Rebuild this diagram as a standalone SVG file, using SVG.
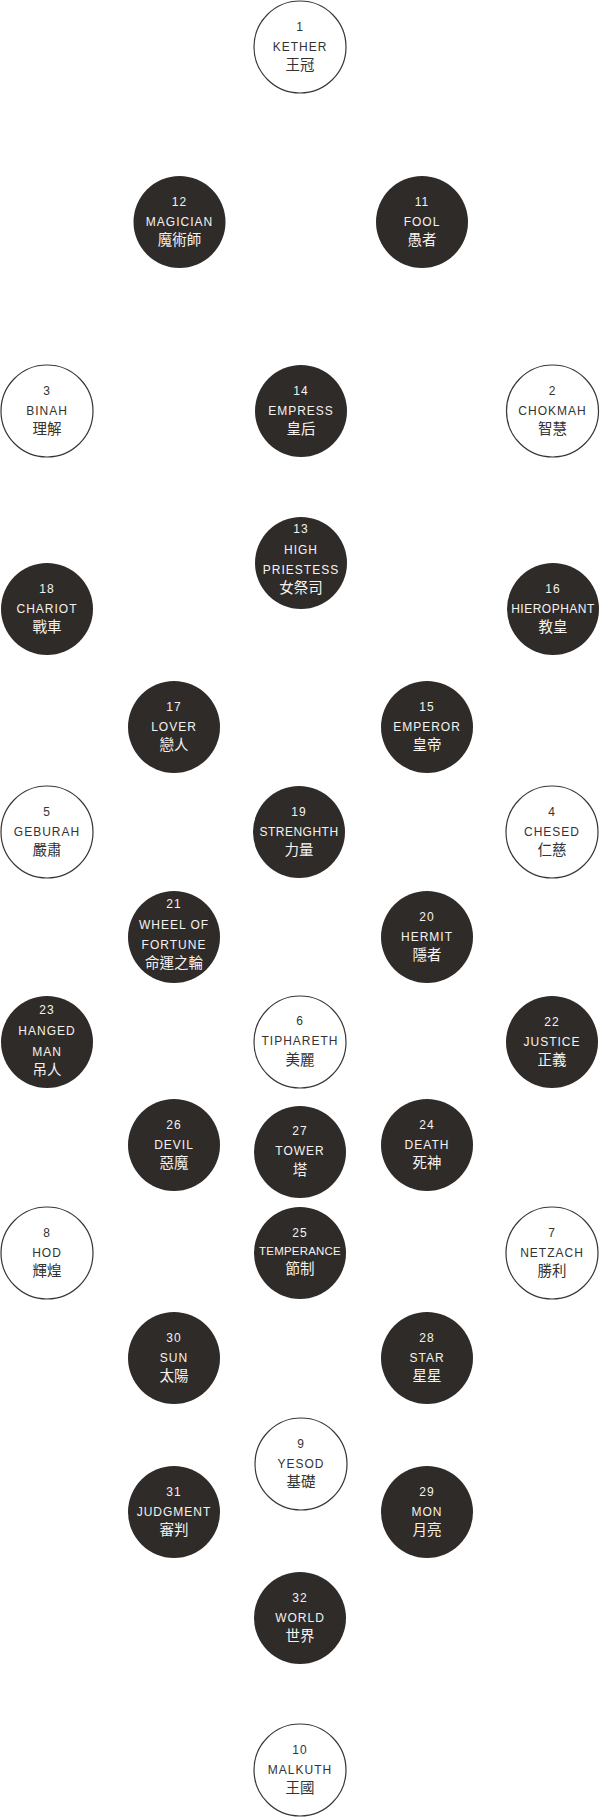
<svg xmlns="http://www.w3.org/2000/svg" width="600" height="1818" viewBox="0 0 600 1818">
<style>
.w circle{fill:#fff;stroke:#3a3636;stroke-width:1.2}
.d circle{fill:#2f2b29}
text{font-family:"Liberation Sans","Noto Sans CJK TC",sans-serif;text-anchor:middle;font-size:12px;letter-spacing:1px}
.w text{fill:#333}
.d text{fill:#f5f3f0}
text.c{font-family:"Noto Sans CJK TC",sans-serif;font-size:14.5px;letter-spacing:0}
</style>
<rect width="600" height="1818" fill="#fff"/>
<g id="connectors"></g>
<g id="nodes">
<g id="n1" class="w" transform="translate(300,47)"><circle r="46"/><text y="-16">1</text><text y="4">KETHER</text><text class="c" y="23">王冠</text></g>
<g id="n12" class="d" transform="translate(179.5,222)"><circle r="46"/><text y="-16">12</text><text y="4">MAGICIAN</text><text class="c" y="23">魔術師</text></g>
<g id="n11" class="d" transform="translate(422,222)"><circle r="46"/><text y="-16">11</text><text y="4">FOOL</text><text class="c" y="23">愚者</text></g>
<g id="n3" class="w" transform="translate(47,411)"><circle r="46"/><text y="-16">3</text><text y="4">BINAH</text><text class="c" y="23">理解</text></g>
<g id="n14" class="d" transform="translate(301,411)"><circle r="46"/><text y="-16">14</text><text y="4">EMPRESS</text><text class="c" y="23">皇后</text></g>
<g id="n2" class="w" transform="translate(552.5,411)"><circle r="46"/><text y="-16">2</text><text y="4">CHOKMAH</text><text class="c" y="23">智慧</text></g>
<g id="n13" class="d" transform="translate(301,563)"><circle r="46"/><text y="-30">13</text><text y="-9">HIGH</text><text y="11">PRIESTESS</text><text class="c" y="30">女祭司</text></g>
<g id="n18" class="d" transform="translate(47,609)"><circle r="46"/><text y="-16">18</text><text y="4">CHARIOT</text><text class="c" y="23">戰車</text></g>
<g id="n16" class="d" transform="translate(553,609)"><circle r="46"/><text y="-16">16</text><text y="4" style="letter-spacing:0.5px">HIEROPHANT</text><text class="c" y="23">教皇</text></g>
<g id="n17" class="d" transform="translate(174,727)"><circle r="46"/><text y="-16">17</text><text y="4">LOVER</text><text class="c" y="23">戀人</text></g>
<g id="n15" class="d" transform="translate(427,727)"><circle r="46"/><text y="-16">15</text><text y="4">EMPEROR</text><text class="c" y="23">皇帝</text></g>
<g id="n5" class="w" transform="translate(47,832)"><circle r="46"/><text y="-16">5</text><text y="4">GEBURAH</text><text class="c" y="23">嚴肅</text></g>
<g id="n19" class="d" transform="translate(299,832)"><circle r="46"/><text y="-16">19</text><text y="4" style="letter-spacing:0.5px">STRENGHTH</text><text class="c" y="23">力量</text></g>
<g id="n4" class="w" transform="translate(552,832)"><circle r="46"/><text y="-16">4</text><text y="4">CHESED</text><text class="c" y="23">仁慈</text></g>
<g id="n21" class="d" transform="translate(174,937)"><circle r="46"/><text y="-29">21</text><text y="-8">WHEEL OF</text><text y="12">FORTUNE</text><text class="c" y="31">命運之輪</text></g>
<g id="n20" class="d" transform="translate(427,937)"><circle r="46"/><text y="-16">20</text><text y="4">HERMIT</text><text class="c" y="23">隱者</text></g>
<g id="n23" class="d" transform="translate(47,1042)"><circle r="46"/><text y="-28">23</text><text y="-7">HANGED</text><text y="14">MAN</text><text class="c" y="33">吊人</text></g>
<g id="n6" class="w" transform="translate(300,1042)"><circle r="46"/><text y="-17">6</text><text y="3">TIPHARETH</text><text class="c" y="23">美麗</text></g>
<g id="n22" class="d" transform="translate(552,1042)"><circle r="46"/><text y="-16">22</text><text y="4">JUSTICE</text><text class="c" y="23">正義</text></g>
<g id="n26" class="d" transform="translate(174,1145)"><circle r="46"/><text y="-16">26</text><text y="4">DEVIL</text><text class="c" y="23">惡魔</text></g>
<g id="n27" class="d" transform="translate(300,1152)"><circle r="46"/><text y="-17">27</text><text y="3">TOWER</text><text class="c" y="23">塔</text></g>
<g id="n24" class="d" transform="translate(427,1145)"><circle r="46"/><text y="-16">24</text><text y="4">DEATH</text><text class="c" y="23">死神</text></g>
<g id="n8" class="w" transform="translate(47,1253)"><circle r="46"/><text y="-16">8</text><text y="4">HOD</text><text class="c" y="23">輝煌</text></g>
<g id="n25" class="d" transform="translate(300,1253)"><circle r="46"/><text y="-16">25</text><text y="2" style="letter-spacing:0.2px;font-size:11.5px">TEMPERANCE</text><text class="c" y="21">節制</text></g>
<g id="n7" class="w" transform="translate(552,1253)"><circle r="46"/><text y="-16">7</text><text y="4">NETZACH</text><text class="c" y="23">勝利</text></g>
<g id="n30" class="d" transform="translate(174,1358)"><circle r="46"/><text y="-16">30</text><text y="4">SUN</text><text class="c" y="23">太陽</text></g>
<g id="n28" class="d" transform="translate(427,1358)"><circle r="46"/><text y="-16">28</text><text y="4">STAR</text><text class="c" y="23">星星</text></g>
<g id="n9" class="w" transform="translate(301,1464)"><circle r="46"/><text y="-16">9</text><text y="4">YESOD</text><text class="c" y="23">基礎</text></g>
<g id="n31" class="d" transform="translate(174,1512)"><circle r="46"/><text y="-16">31</text><text y="4">JUDGMENT</text><text class="c" y="23">審判</text></g>
<g id="n29" class="d" transform="translate(427,1512)"><circle r="46"/><text y="-16">29</text><text y="4">MON</text><text class="c" y="23">月亮</text></g>
<g id="n32" class="d" transform="translate(300,1618)"><circle r="46"/><text y="-16">32</text><text y="4">WORLD</text><text class="c" y="23">世界</text></g>
<g id="n10" class="w" transform="translate(300,1770)"><circle r="46"/><text y="-16">10</text><text y="4">MALKUTH</text><text class="c" y="23">王國</text></g>
</g>
</svg>
